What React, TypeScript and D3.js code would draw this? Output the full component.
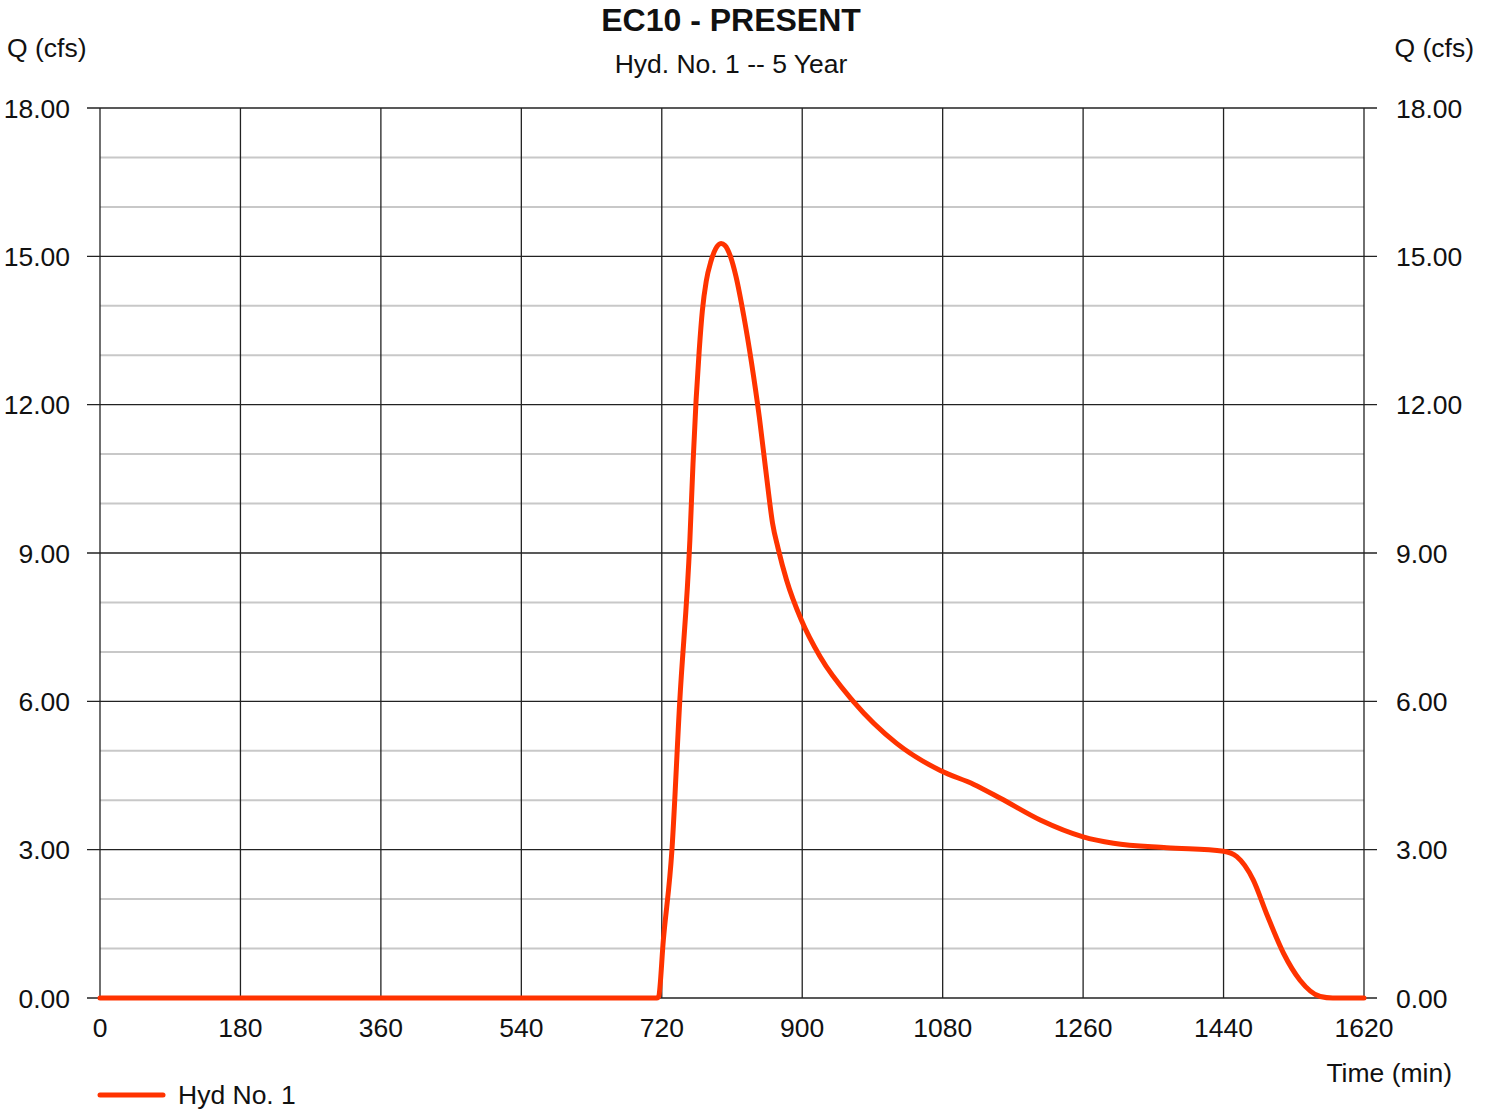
import React from "react";
import * as d3 from "d3";

const timeMin = [0, 714, 716, 722, 733, 743, 756, 760, 764, 768, 772, 777, 783, 789, 796, 801, 808, 815, 825, 835, 845, 855, 862, 869, 880, 899, 923, 966, 1021, 1077, 1120, 1154, 1205, 1260, 1299, 1367, 1440, 1457, 1478, 1495, 1517, 1538, 1564, 1580, 1620];
const flowCfs = [0, 0, 0.03, 1.17, 2.99, 5.99, 9.26, 10.8, 12.1, 13.1, 13.9, 14.5, 14.9, 15.15, 15.26, 15.22, 15.0, 14.6, 13.8, 12.85, 11.75, 10.45, 9.6, 9.1, 8.45, 7.64, 6.9, 5.99, 5.15, 4.6, 4.32, 4.04, 3.6, 3.26, 3.13, 3.04, 2.97, 2.86, 2.39, 1.71, 0.9, 0.36, 0.03, 0, 0];
const xTicks = [0, 180, 360, 540, 720, 900, 1080, 1260, 1440, 1620];
const yMajor = [0, 3, 6, 9, 12, 15, 18];
const yMinor = [1, 2, 4, 5, 7, 8, 10, 11, 13, 14, 16, 17];

const W = 1491, H = 1110;
const L = 100, R = 1364, T = 108, B = 998;
const FONT = "Liberation Sans, Arial, sans-serif";
const RED = "#ff3300";
const FS = 26.5;

export default function App() {
  const x = d3.scaleLinear().domain([0, 1620]).range([L, R]);
  const y = d3.scaleLinear().domain([0, 18]).range([B, T]);
  const pts = timeMin.map((t, i) => [t, flowCfs[i]] as [number, number]);
  const line = d3.line<[number, number]>().x(d => x(d[0])).y(d => y(d[1])).curve(d3.curveMonotoneX);
  return (
    <svg width={W} height={H} style={{ position: "absolute", left: 0, top: 0, background: "#fff" }} fontFamily={FONT}>
      {yMinor.map(v => (
        <line key={"mi" + v} x1={L} x2={R} y1={y(v)} y2={y(v)} stroke="#c8c8c8" strokeWidth={2} />
      ))}
      {xTicks.map(v => (
        <line key={"vx" + v} x1={x(v)} x2={x(v)} y1={T} y2={B} stroke="#222" strokeWidth={1.3} />
      ))}
      {yMajor.map(v => (
        <line key={"ma" + v} x1={L - 13} x2={R + 13} y1={y(v)} y2={y(v)} stroke="#222" strokeWidth={1.3} />
      ))}
      <path d={line(pts) || ""} fill="none" stroke={RED} strokeWidth={5} strokeLinejoin="round" strokeLinecap="round" />
      {yMajor.map(v => (
        <text key={"yl" + v} x={70} y={y(v)} dy="0.36em" textAnchor="end" fontSize={FS} fill="#111">{v.toFixed(2)}</text>
      ))}
      {yMajor.map(v => (
        <text key={"yr" + v} x={1396} y={y(v)} dy="0.36em" textAnchor="start" fontSize={FS} fill="#111">{v.toFixed(2)}</text>
      ))}
      {xTicks.map(v => (
        <text key={"xl" + v} x={x(v)} y={1037} textAnchor="middle" fontSize={FS} fill="#111">{v}</text>
      ))}
      <text x={731} y={31} textAnchor="middle" fontSize={32} fontWeight="bold" fill="#111">EC10 - PRESENT</text>
      <text x={731} y={73} textAnchor="middle" fontSize={FS} fill="#111">Hyd. No. 1 -- 5 Year</text>
      <text x={7} y={57} fontSize={FS} fill="#111">Q (cfs)</text>
      <text x={1474} y={57} textAnchor="end" fontSize={FS} fill="#111">Q (cfs)</text>
      <text x={1452} y={1082} textAnchor="end" fontSize={FS} fill="#111">Time (min)</text>
      <line x1={100} x2={163} y1={1095} y2={1095} stroke={RED} strokeWidth={5} strokeLinecap="round" />
      <text x={178} y={1104} fontSize={FS} fill="#111">Hyd No. 1</text>
    </svg>
  );
}
